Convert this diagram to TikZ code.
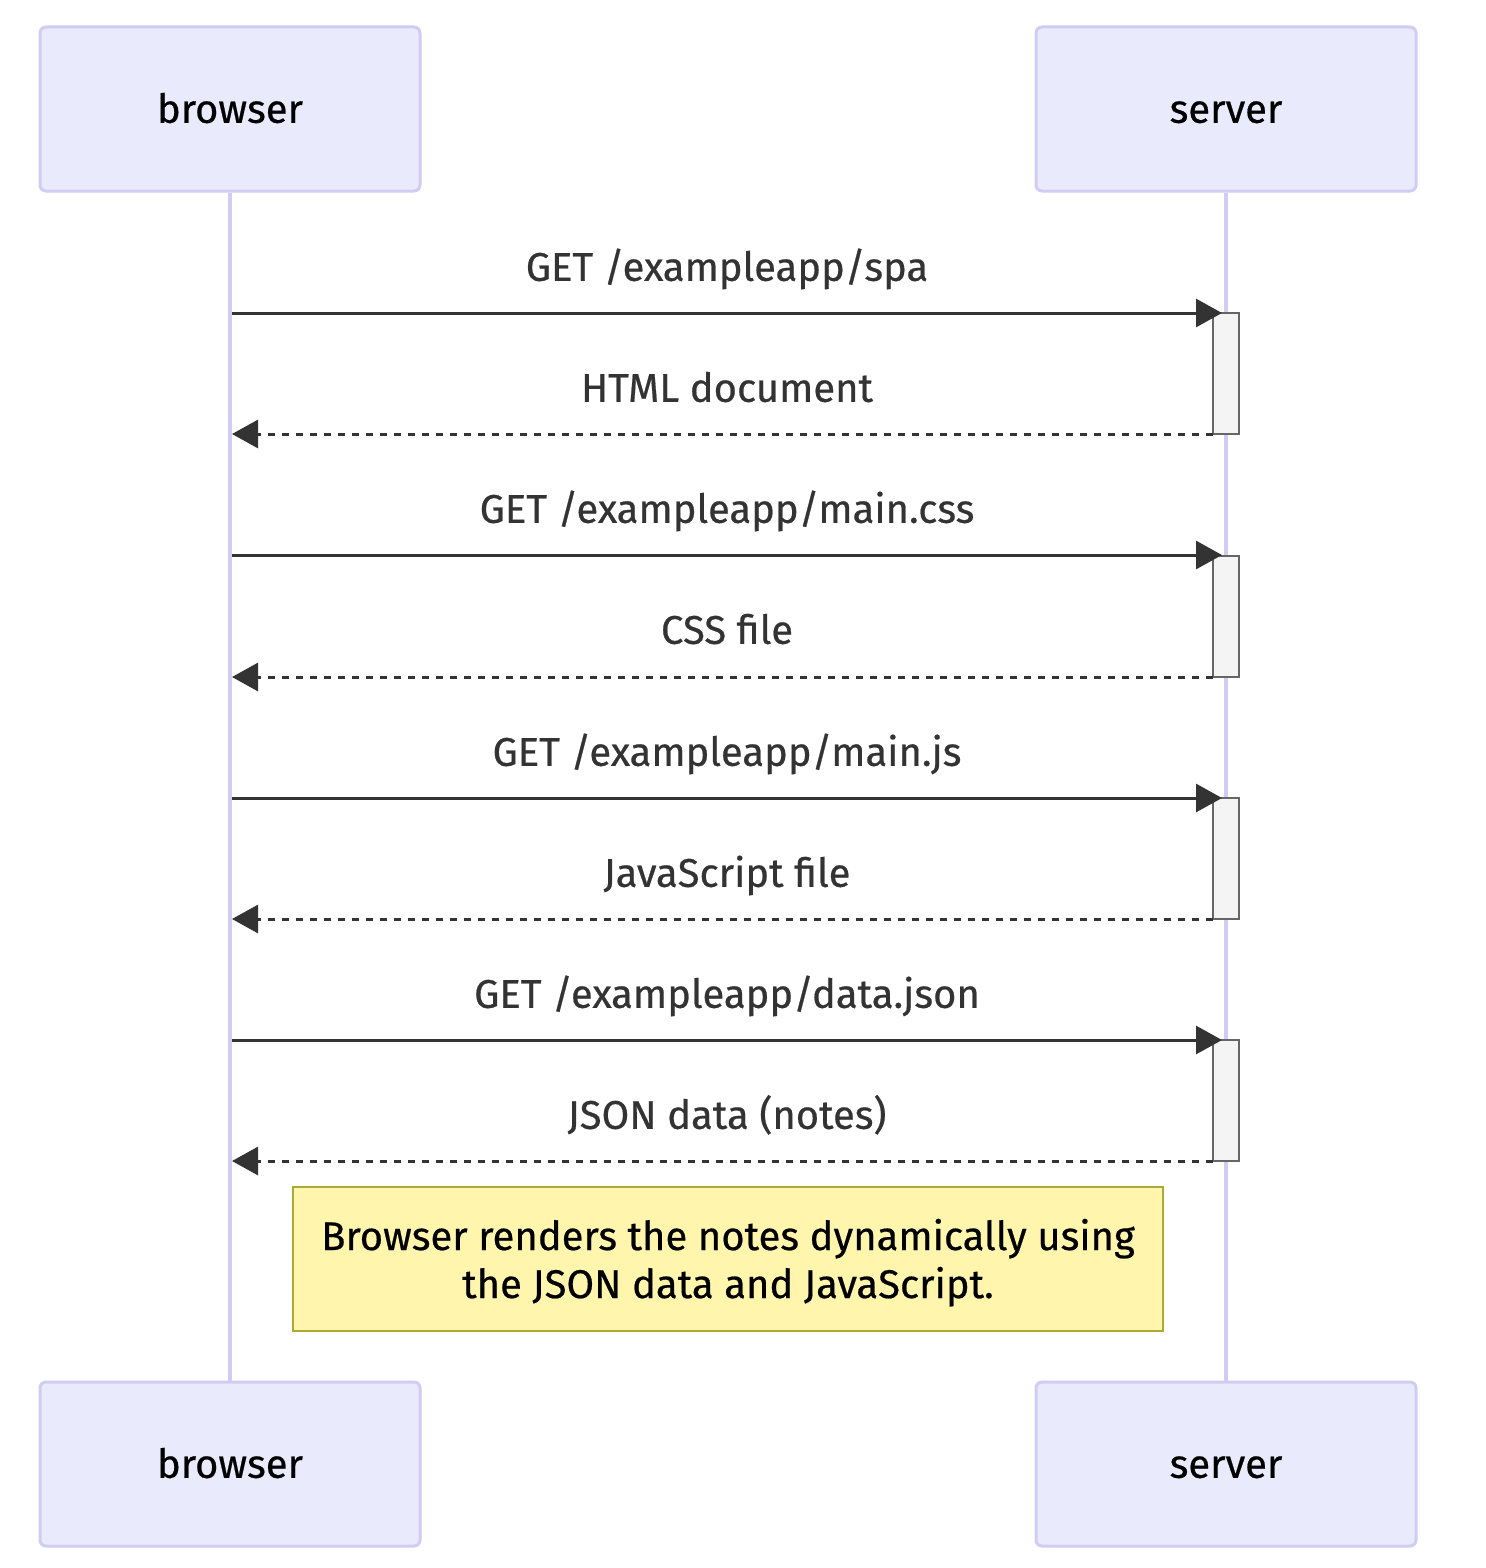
\documentclass[tikz,border=0pt]{standalone}
\usepackage{fontspec}
\setmainfont{Fira Sans}[FakeBold=0.5]
\usetikzlibrary{arrows.meta}
\definecolor{actfill}{HTML}{EAEAFD}
\definecolor{actline}{HTML}{D2CCF2}
\definecolor{msgc}{HTML}{333333}
\definecolor{actbfill}{HTML}{F4F4F4}
\definecolor{actbline}{HTML}{666666}
\definecolor{notefill}{HTML}{FFF5AD}
\definecolor{noteline}{HTML}{AAAA33}
\tikzset{
  txt/.style={font=\fontsize{20}{24}\selectfont, text height=13.8pt, text depth=0pt},
  actor/.style={draw=actline, line width=1.5pt, fill=actfill, rounded corners=3pt,
    minimum width=190pt, minimum height=82pt, inner sep=0pt, text=black, txt},
  life/.style={draw=actline, line width=1.75pt},
  actbox/.style={draw=actbline, fill=actbfill, line width=1pt, minimum width=13pt,
    minimum height=60.5pt, inner sep=0pt},
  msg/.style={draw=msgc, line width=1.5pt, -{Triangle[length=13pt,width=14pt]}},
  reply/.style={msg, dash pattern=on 3.5pt off 3.5pt},
  lbl/.style={text=msgc, inner sep=0pt, txt},
  notebox/.style={draw=noteline, fill=notefill, line width=1pt, minimum width=435pt,
    minimum height=72pt, inner sep=0pt},
  notetxt/.style={align=center, text=black, inner sep=0pt,
    font=\fontsize{20}{24}\selectfont}
}
\begin{document}
\begin{tikzpicture}[x=0.5pt,y=-0.5pt]
\useasboundingbox (0,0) rectangle (1486,1568);
\fill[white] (0,0) rectangle (1486,1568);
\node[actor] (bt) at (230,109) {browser};
\node[actor] (st) at (1226,109) {server};
\node[actor] (bb) at (230,1464) {browser};
\node[actor] (sb) at (1226,1464) {server};
\draw[life] (bt.south) -- (bb.north);
\draw[life] (st.south) -- (sb.north);
% activation boxes
\node[actbox] (a1) at (1226,373.5) {};
\node[actbox] (a2) at (1226,616) {};
\node[actbox] (a3) at (1226,858.5) {};
\node[actbox] (a4) at (1226,1100.5) {};
% message endpoints
\foreach \i/\ya/\yb in {1/313/434, 2/555/677, 3/798/919, 4/1040/1161} {
  \coordinate (bs\i) at (232,\ya);
  \coordinate (ss\i) at (1222,\ya);
  \coordinate (sr\i) at (1213,\yb);
  \coordinate (br\i) at (232,\yb);
}
\draw[msg] (bs1) -- (ss1);
\draw[reply] (sr1) -- (br1);
\draw[msg] (bs2) -- (ss2);
\draw[reply] (sr2) -- (br2);
\draw[msg] (bs3) -- (ss3);
\draw[reply] (sr3) -- (br3);
\draw[msg] (bs4) -- (ss4);
\draw[reply] (sr4) -- (br4);
\node[lbl] (l1) at (727,267) {GET /exampleapp/spa};
\node[lbl] (l2) at (727,388) {HTML document};
\node[lbl] (l3) at (727,509) {GET /exampleapp/main.css};
\node[lbl] (l4) at (727,630) {CSS file};
\node[lbl] (l5) at (727,752) {GET /exampleapp/main.js};
\node[lbl] (l6) at (727,873) {JavaScript file};
\node[lbl] (l7) at (727,994) {GET /exampleapp/data.json};
\node[lbl] (l8) at (727,1115) {JSON data (notes)};
\node[notebox] (note) at (728,1259) {};
\node[notetxt, anchor=base] (nt) at (728,1298) {Browser renders the notes dynamically using\\the JSON data and JavaScript.};
\end{tikzpicture}
\end{document}
